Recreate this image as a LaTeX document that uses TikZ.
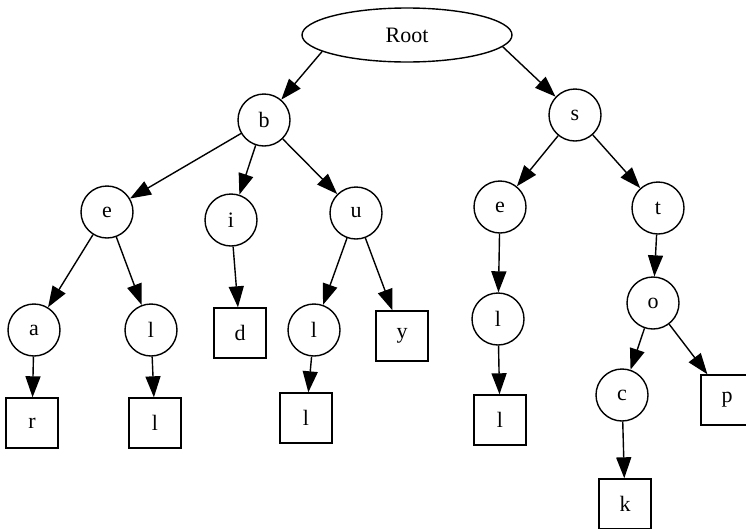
\documentclass[tikz,border=0pt]{standalone}
\usepackage{fontspec}
\setmainfont{Liberation Serif}
\usetikzlibrary{shapes.geometric,arrows.meta}
\begin{document}
\begin{tikzpicture}[x=1pt,y=-1pt,
  every node/.style={font=\fontsize{22}{24}\selectfont, inner sep=0pt, line width=1.4pt},
  knot/.style={draw, circle, minimum size=52pt},
  leaf/.style={draw, rectangle, minimum width=52pt, minimum height=50pt},
  rootnode/.style={draw, ellipse, minimum width=210pt, minimum height=54pt},
  link/.style={draw, line width=1.4pt, -{Triangle[length=21pt,width=15pt]}}]
\useasboundingbox (0,0) rectangle (746,528);
\clip (0,0) rectangle (746,528);

% nodes of the trie
\node[rootnode] (root) at (407,35) {Root};
\node[knot] (b)  at (264,120) {b};
\node[knot] (s)  at (575,115) {s};
\node[knot] (e1) at (107,212) {e};
\node[knot] (i)  at (231,220) {i};
\node[knot] (u)  at (356,213) {u};
\node[knot] (e2) at (500,207) {e};
\node[knot] (t)  at (658,208) {t};
\node[knot] (a)  at (34,330)  {a};
\node[knot] (l1) at (151,330) {l};
\node[leaf] (d)  at (240,333) {d};
\node[knot] (l2) at (314,330) {l};
\node[leaf] (y)  at (402,336) {y};
\node[knot] (l3) at (498,319) {l};
\node[knot] (o)  at (653,303) {o};
\node[leaf] (r)  at (32,423)  {r};
\node[leaf] (lb1) at (155,423) {l};
\node[leaf] (lb2) at (306,418) {l};
\node[leaf] (lb3) at (500,420) {l};
\node[knot] (c)  at (622,395) {c};
\node[leaf] (p)  at (727,400) {p};
\node[leaf] (k)  at (625,504) {k};

% edges
\draw[link] (root.191) -- (b);
\draw[link] (root.353) -- (s);
\draw[link] (b) -- (e1);
\draw[link] (b) -- (i);
\draw[link] (b) -- (u);
\draw[link] (s) -- (e2);
\draw[link] (s) -- (t);
\draw[link] (e1) -- (a);
\draw[link] (e1) -- (l1);
\draw[link] (i) -- (d);
\draw[link] (u) -- (l2);
\draw[link] (u) -- (y);
\draw[link] (e2) -- (l3);
\draw[link] (t) -- (o);
\draw[link] (a) -- (r);
\draw[link] (l1) -- (lb1);
\draw[link] (l2) -- (lb2);
\draw[link] (l3) -- (lb3);
\draw[link] (o) -- (c);
\draw[link] (o) -- (p);
\draw[link] (c) -- (k);
\end{tikzpicture}
\end{document}
